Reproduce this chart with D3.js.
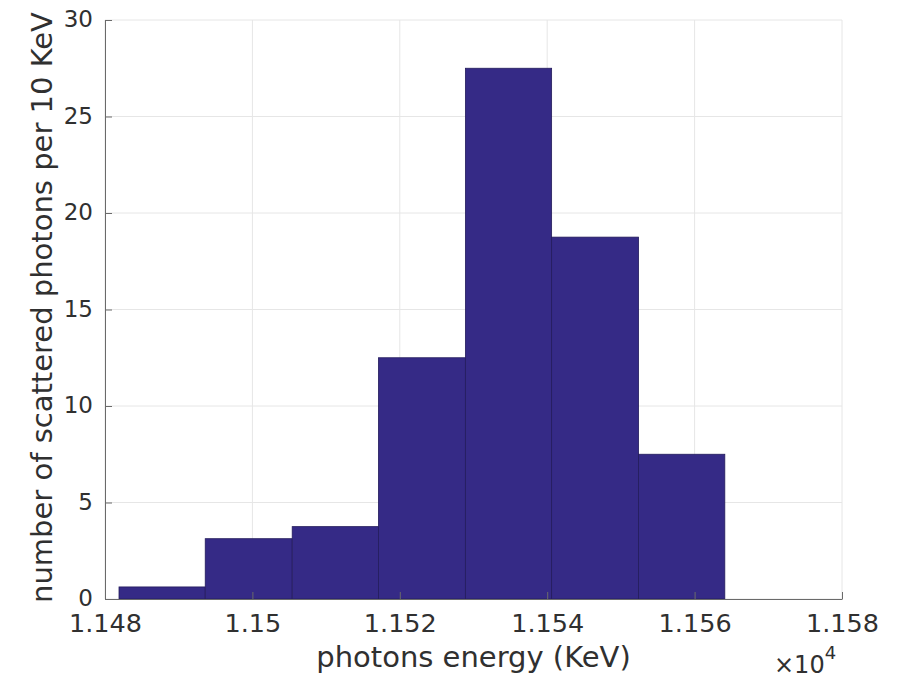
<!DOCTYPE html>
<html>
<head>
<meta charset="utf-8">
<script src="https://cdn.jsdelivr.net/npm/d3@7"></script>
<style>
  body { margin: 0; background: #fff; }
  text { font-family: "DejaVu Sans", sans-serif; }
</style>
</head>
<body>
<svg id="root" width="897" height="678"></svg>
<script>
// bin edges (KeV) and heights
const binEdges = [11481.9, 11493.6, 11505.4, 11517.1, 11528.9, 11540.6, 11552.4, 11564.1];
const counts = [0.625, 3.125, 3.75, 12.5, 27.5, 18.75, 7.5];
const xTicks = [11480, 11500, 11520, 11540, 11560, 11580];
const yTicks = [0, 5, 10, 15, 20, 25, 30];

const bins = counts.map((c, i) => ({ x0: binEdges[i], x1: binEdges[i + 1], count: c }));

const svg = d3.select("#root");

const margin = { top: 20, left: 105, bottom: 79, right: 55 };
const dimensions = { width: 897, height: 678 };

const xScale = d3
    .scaleLinear()
    .domain([11480, 11580])
    .range([margin.left, dimensions.width - margin.right]);
const yScale = d3
    .scaleLinear()
    .domain([0, 30])
    .range([dimensions.height - margin.bottom, margin.top]);

const textColor = "#303030";
const axisLine = "#6a6a6a";

// grid
svg.append("g")
    .selectAll("line")
    .data(xTicks)
    .join("line")
    .attr("x1", (d) => xScale(d))
    .attr("x2", (d) => xScale(d))
    .attr("y1", yScale(0))
    .attr("y2", yScale(30))
    .attr("stroke", "#e6e6e6")
    .attr("stroke-width", 1);
svg.append("g")
    .selectAll("line")
    .data(yTicks)
    .join("line")
    .attr("x1", xScale(11480))
    .attr("x2", xScale(11580))
    .attr("y1", (d) => yScale(d))
    .attr("y2", (d) => yScale(d))
    .attr("stroke", "#e6e6e6")
    .attr("stroke-width", 1);

// bars
svg.append("g")
    .selectAll("rect")
    .data(bins)
    .join("rect")
    .attr("x", (d) => xScale(d.x0))
    .attr("width", (d) => xScale(d.x1) - xScale(d.x0))
    .attr("y", (d) => yScale(d.count))
    .attr("height", (d) => yScale(0) - yScale(d.count))
    .attr("fill", "#352a86")
    .attr("stroke", "#241c5c")
    .attr("stroke-width", 0.8);

// axes
const xAxis = d3.axisBottom(xScale)
    .tickValues(xTicks)
    .tickSizeInner(-7)
    .tickSizeOuter(0)
    .tickPadding(15)
    .tickFormat((d) => d3.format("")(+(d / 10000).toFixed(3)));
svg.append("g")
    .attr("transform", `translate(0, ${yScale(0)})`)
    .call(xAxis)
    .call((g) => g.select(".domain").attr("stroke", axisLine))
    .call((g) => g.selectAll(".tick line").attr("stroke", axisLine))
    .call((g) =>
        g.selectAll("text")
            .attr("fill", textColor)
            .style("font-size", "25.5px")
    );

const yAxis = d3.axisLeft(yScale)
    .tickValues(yTicks)
    .tickSizeInner(-7)
    .tickSizeOuter(0)
    .tickPadding(12);
svg.append("g")
    .attr("transform", `translate(${margin.left}, 0)`)
    .call(yAxis)
    .call((g) => g.select(".domain").attr("stroke", axisLine))
    .call((g) => g.selectAll(".tick line").attr("stroke", axisLine))
    .call((g) =>
        g.selectAll("text")
            .attr("fill", textColor)
            .attr("dy", "0.3em")
            .style("font-size", "23px")
    );

// labels
svg.append("text")
    .attr("x", (xScale(11480) + xScale(11580)) / 2)
    .attr("y", 667)
    .attr("text-anchor", "middle")
    .attr("fill", textColor)
    .style("font-size", "29px")
    .text("photons energy (KeV)");

svg.append("text")
    .attr("transform", `translate(52, ${(yScale(0) + yScale(30)) / 2 - 2}) rotate(-90)`)
    .attr("text-anchor", "middle")
    .attr("fill", textColor)
    .style("font-size", "29px")
    .text("number of scattered photons per 10 KeV");

const mult = svg.append("text")
    .attr("x", 774)
    .attr("y", 673)
    .attr("fill", textColor)
    .style("font-size", "24px");
mult.append("tspan").text("×10");
mult.append("tspan").attr("dy", -14).style("font-size", "18px").text("4");
</script>
</body>
</html>
